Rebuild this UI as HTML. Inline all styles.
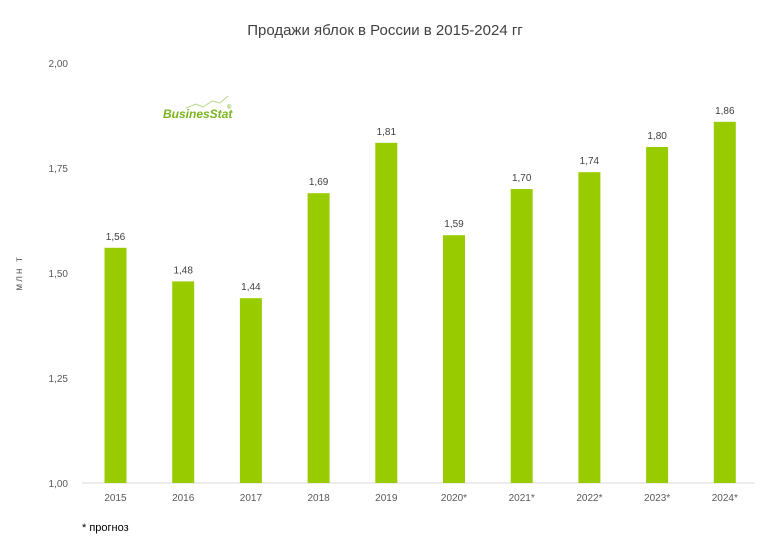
<!DOCTYPE html>
<html><head><meta charset="utf-8">
<style>
body{margin:0;background:#fff;}
svg{display:block;font-family:"Liberation Sans","DejaVu Sans",sans-serif;}
</style></head>
<body>
<svg id="chart" width="767" height="541" viewBox="0 0 767 541">
<text x="385" y="35" text-anchor="middle" font-size="15" fill="#404040">Продажи яблок в России в 2015-2024 гг</text>
<text transform="translate(22,273) rotate(-90)" text-anchor="middle" font-size="10" fill="#595959" letter-spacing="2">млн т</text>
<g>
<path d="M186 108 L196 104 L203 107 L212 101 L220 103 L228 96" fill="none" stroke="#b8d88a" stroke-width="1"/>
<text x="163" y="118" font-size="12" font-weight="bold" font-style="italic" fill="#7ab41e">BusinesStat</text>
<text x="227" y="109" font-size="6" fill="#7ab41e">®</text>
</g>
<g id="axes"></g>
<g id="bars"></g>
<text x="82" y="531" font-size="11" fill="#000">* прогноз</text>
</svg>
<script>
const categories=["2015","2016","2017","2018","2019","2020*","2021*","2022*","2023*","2024*"];
const values=[1.56,1.48,1.44,1.69,1.81,1.59,1.70,1.74,1.80,1.86];
const yTicks=[1.00,1.25,1.50,1.75,2.00];
const NS="http://www.w3.org/2000/svg";
const y=v=>483-(v-1)*420;
const x=i=>115.5+i*67.7;
const fmt=v=>v.toFixed(2).replace('.',',');
const axes=document.getElementById('axes'),bars=document.getElementById('bars');
function mk(t,a,p){const e=document.createElementNS(NS,t);for(const k in a)e.setAttribute(k,a[k]);p.appendChild(e);return e;}
yTicks.forEach(t=>{
 const l=mk('text',{x:68,y:y(t)+4,'text-anchor':'end','font-size':10,fill:'#595959'},axes);
 
 
 l.textContent=fmt(t);
});
const ax=mk('line',{x1:82,x2:755,y1:483,y2:483,stroke:'#d9d9d9','stroke-width':1},axes);


categories.forEach((c,i)=>{
 const r=mk('rect',{x:x(i)-11,y:y(values[i]),width:22,height:483-y(values[i]),fill:'#99cc00'},bars);
 
 
 const v=mk('text',{x:x(i),y:y(values[i])-8,'text-anchor':'middle','font-size':10,fill:'#404040'},bars);
 
 
 v.textContent=fmt(values[i]);
 const t=mk('text',{x:x(i),y:501,'text-anchor':'middle','font-size':10,fill:'#595959'},bars);
 
 
 t.textContent=c;
});
</script>
</body></html>
